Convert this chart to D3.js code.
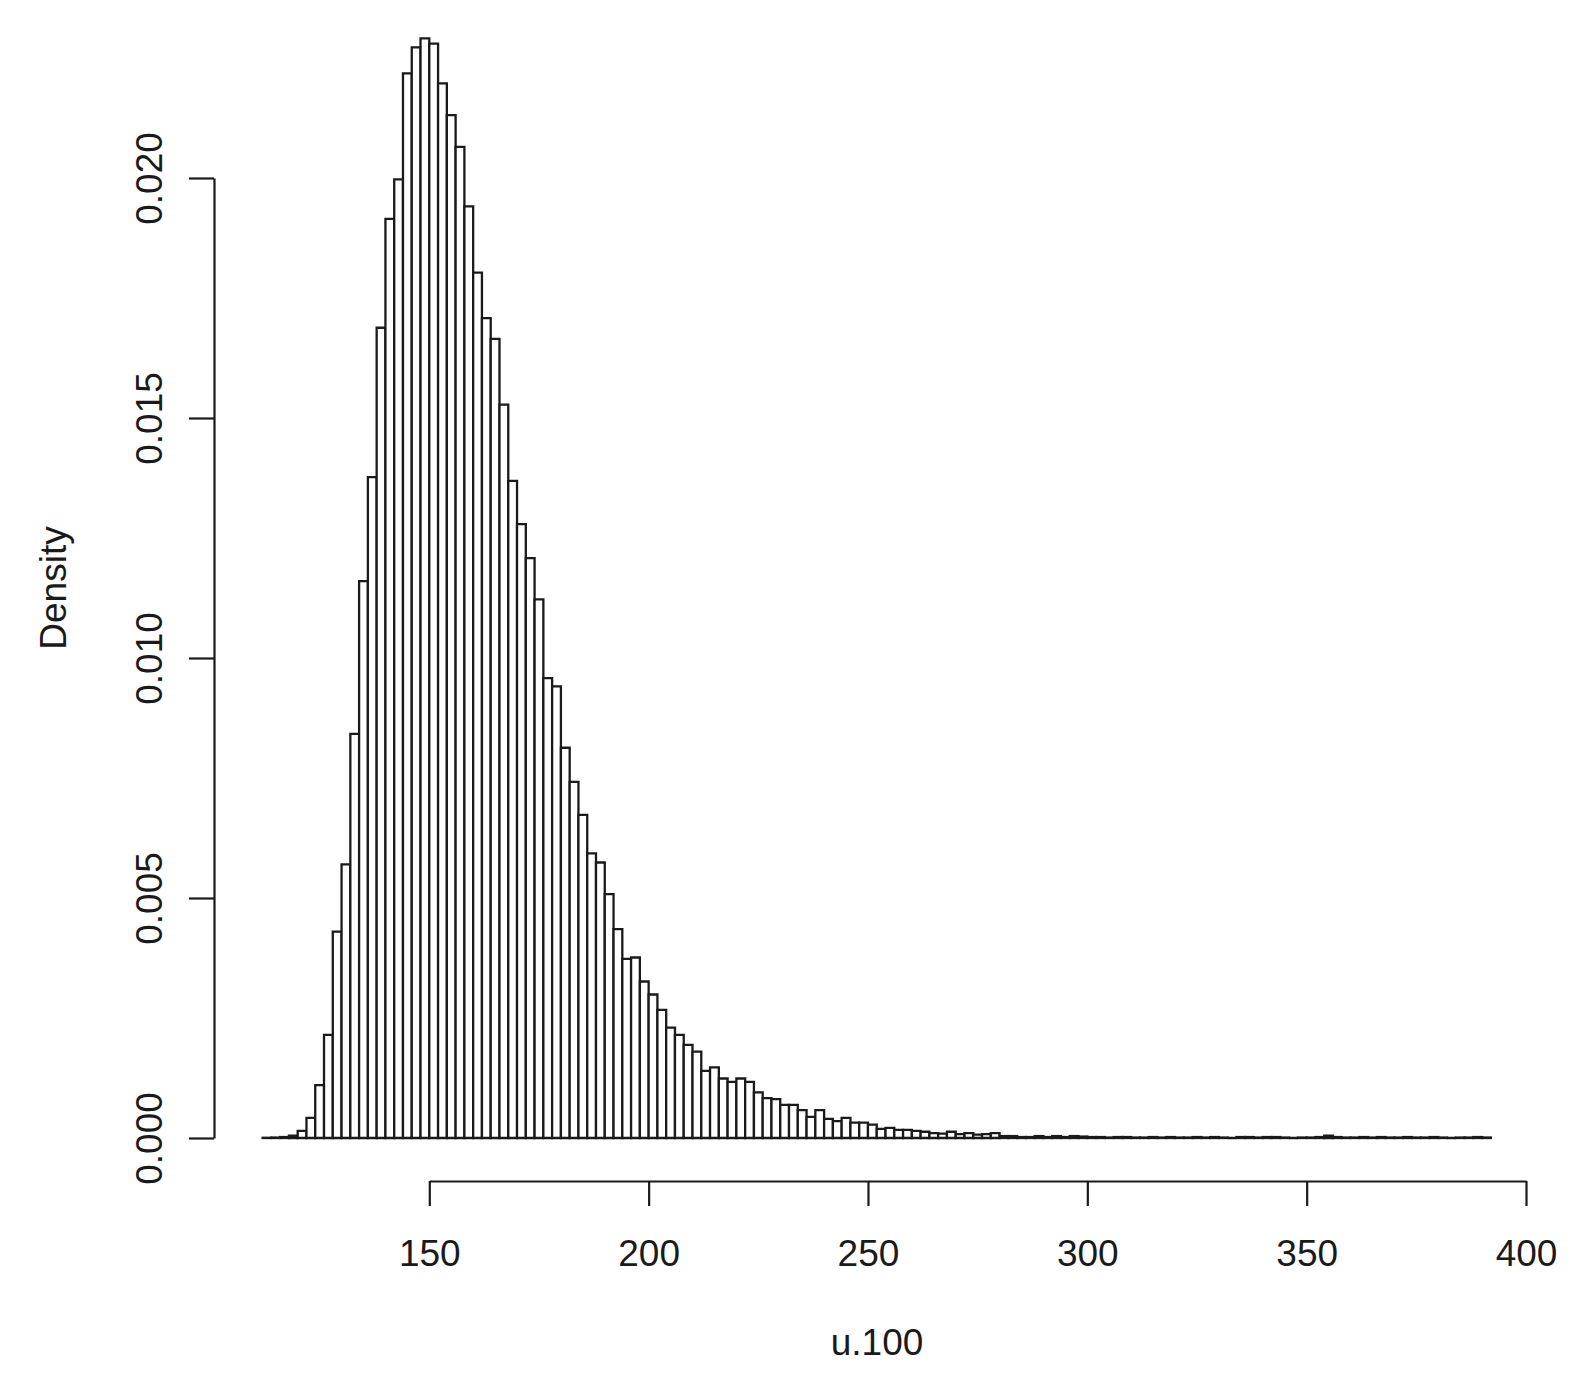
<!DOCTYPE html>
<html>
<head>
<meta charset="utf-8">
<script src="https://cdn.jsdelivr.net/npm/d3@7"></script>
<style>
  html, body { margin: 0; padding: 0; background: #ffffff; }
  svg { display: block; }
  text { font-family: "Liberation Sans", Arial, Helvetica, sans-serif; fill: #1a1a1a; }
</style>
</head>
<body>
<svg id="chart" width="1586" height="1393"></svg>
<script>
// ---- data ----
const binStart = 112;
const binWidth = 2;
const density = [
  0.000005, 0.00001, 0.00002, 0.00005, 0.00015, 0.00042, 0.00110, 0.00215, 0.00430, 0.00570, // 112-130
  0.00842, 0.01160, 0.01377, 0.01688, 0.01915, 0.01997, 0.02218, 0.02272, 0.02291, 0.02280, // 132-150
  0.02197, 0.02131, 0.02065, 0.01941, 0.01803, 0.01708, 0.01665, 0.01528, 0.01369, 0.01279, // 152-170
  0.01208, 0.01122, 0.00958, 0.00941, 0.00813, 0.00742, 0.00673, 0.00593, 0.00574, 0.00508, // 172-190
  0.00435, 0.00373, 0.00376, 0.00326, 0.00299, 0.00267, 0.00230, 0.00215, 0.00194, 0.00180, // 192-210
  0.00140, 0.00147, 0.00124, 0.00117, 0.00124, 0.00117, 0.00095, 0.00083, 0.00081, 0.00069, // 212-230
  0.00069, 0.00058, 0.00044, 0.00058, 0.00040, 0.00035, 0.00042, 0.00032, 0.00032, 0.00028, // 232-250
  0.00019, 0.00021, 0.00017, 0.00017, 0.00015, 0.00013, 0.00010, 0.00009, 0.00013, 0.00008, // 252-270
  0.00010, 0.00007, 0.00008, 0.00010, 0.00004, 0.00004, 0.00002, 0.00002, 0.00004, 0.00002, // 272-290
  0.00004, 0.00002, 0.00004, 0.00003, 0.00002, 0.00002, 0.00001, 0.00002, 0.00002, 0.00001, // 292-310
  0.00001, 0.00002, 0.00001, 0.00002, 0.00001, 0.00001, 0.00002, 0.00001, 0.00002, 0.00001, // 312-330
  0.00000, 0.00002, 0.00002, 0.00001, 0.00002, 0.00002, 0.00001, 0.00000, 0.00001, 0.00001, // 332-350
  0.00002, 0.00005, 0.00002, 0.00001, 0.00001, 0.00002, 0.00001, 0.00002, 0.00001, 0.00001, // 352-370
  0.00002, 0.00001, 0.00001, 0.00002, 0.00001, 0.00000, 0.00001, 0.00001, 0.00002, 0.00001  // 372-390
];
const xTicks = [150, 200, 250, 300, 350, 400];
const yTicks = [0, 0.005, 0.010, 0.015, 0.020];
const xLabel = "u.100";
const yLabel = "Density";

// ---- scales ----
const x = d3.scaleLinear().domain([150, 400]).range([429.3, 1526]);
const y = d3.scaleLinear().domain([0, 0.02]).range([1138, 178]);

const svg = d3.select("#chart");
svg.append("rect").attr("width", 1586).attr("height", 1393).attr("fill", "#ffffff");

const bins = density.map((d, i) => ({ x0: binStart + i * binWidth, x1: binStart + (i + 1) * binWidth, v: d }));

// bars as closed paths (so zero-height bins still draw a baseline segment)
svg.append("g")
  .selectAll("path")
  .data(bins)
  .join("path")
  .attr("d", b => {
    const x0 = x(b.x0), x1 = x(b.x1), y0 = y(0), y1 = y(b.v);
    return `M${x0},${y0}V${y1}H${x1}V${y0}Z`;
  })
  .attr("fill", "#ffffff")
  .attr("stroke", "#1a1a1a")
  .attr("stroke-width", 2.3)
  .attr("stroke-linejoin", "miter");

// x axis
const gx = svg.append("g")
  .attr("transform", "translate(0,1181)")
  .call(d3.axisBottom(x).tickValues(xTicks).tickSize(25).tickSizeOuter(0).tickFormat(d3.format("d")));
gx.select(".domain").attr("stroke", "#1a1a1a").attr("stroke-width", 2.2);
gx.selectAll(".tick line").attr("stroke", "#1a1a1a").attr("stroke-width", 2.2);
gx.selectAll(".tick text")
  .attr("y", 85).attr("dy", null)
  .attr("font-size", 37)
  .attr("font-family", "Liberation Sans, Arial, sans-serif")
  .attr("fill", "#1a1a1a");

// y axis
const gy = svg.append("g")
  .attr("transform", "translate(214,0)")
  .call(d3.axisLeft(y).tickValues(yTicks).tickSize(25).tickSizeOuter(0).tickFormat(d3.format(".3f")));
gy.select(".domain").attr("stroke", "#1a1a1a").attr("stroke-width", 2.2);
gy.selectAll(".tick line").attr("stroke", "#1a1a1a").attr("stroke-width", 2.2);
gy.selectAll(".tick text")
  .attr("x", 0).attr("y", -52).attr("dy", null)
  .attr("transform", "rotate(-90)")
  .attr("text-anchor", "middle")
  .attr("font-size", 37)
  .attr("font-family", "Liberation Sans, Arial, sans-serif")
  .attr("fill", "#1a1a1a");

// axis titles
svg.append("text")
  .attr("x", 877).attr("y", 1355)
  .attr("text-anchor", "middle")
  .attr("font-size", 37)
  .text(xLabel);

svg.append("text")
  .attr("transform", "translate(66,588) rotate(-90)")
  .attr("text-anchor", "middle")
  .attr("font-size", 37)
  .text(yLabel);
</script>
</body>
</html>
